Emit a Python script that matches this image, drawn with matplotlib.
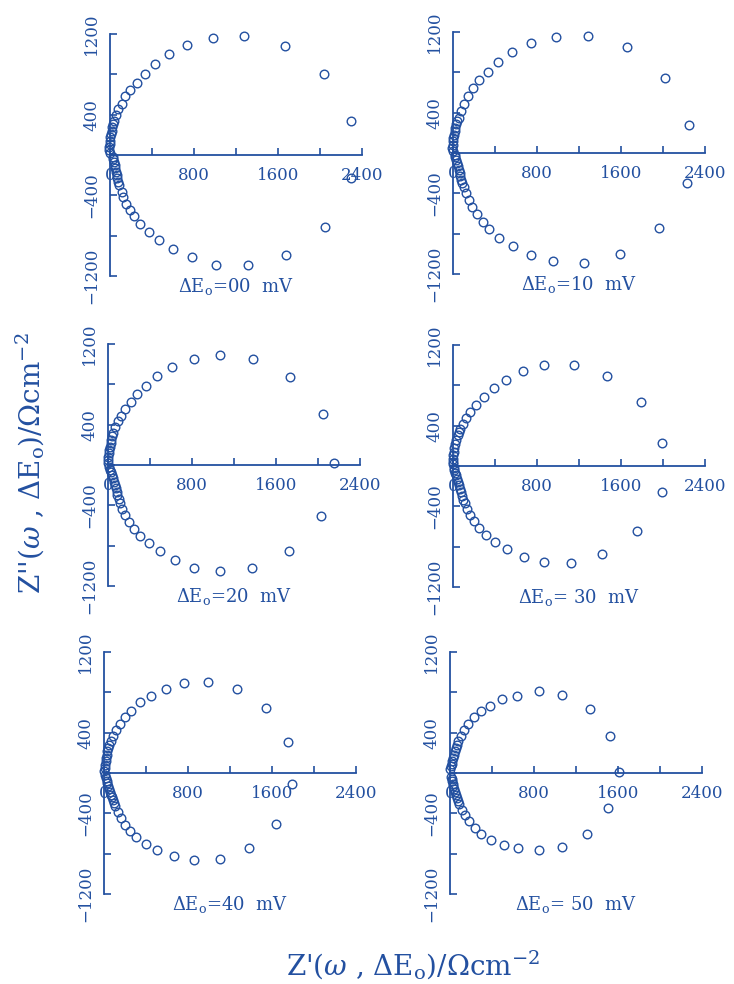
import matplotlib
matplotlib.use("Agg")
import matplotlib.pyplot as plt
from matplotlib.ticker import FixedLocator, FixedFormatter

plt.rcParams['font.family'] = ['DejaVu Serif']
plt.rcParams['mathtext.fontset'] = 'dejavuserif'

INK = '#2350A0'

# ---- impedance data: real part Z' and imaginary part Z'' (Ohm cm^-2) ----
# dE0 = 00 mV
zr_00_up = [2298, 2038, 1664, 1280, 982, 736, 560, 432, 336, 256, 192, 144, 112, 80, 58, 38, 29, 22, 16, 10, 3, 0, -3, -6, -6, -3]
zi_00_up = [340, 802, 1082, 1178, 1162, 1096, 1000, 901, 802, 716, 643, 584, 511, 452, 396, 340, 307, 274, 241, 208, 175, 142, 109, 76, 50, 23]
zr_00_lo = [2298, 2048, 1680, 1318, 1008, 778, 598, 464, 368, 288, 224, 192, 154, 128, 112, 90, 80, 70, 64, 58, 51, 45, 38, 32, 26]
zi_00_lo = [-231, -710, -990, -1096, -1089, -1016, -934, -842, -766, -683, -604, -545, -485, -419, -363, -297, -264, -231, -198, -165, -132, -99, -66, -40, -16]

# dE0 = 10 mV
zr_10_up = [2252, 2016, 1654, 1285, 977, 740, 561, 425, 331, 252, 189, 142, 104, 72, 54, 42, 31, 23, 16, 9, 3, 0, -3, -6, -3]
zi_10_up = [273, 743, 1049, 1166, 1156, 1089, 999, 899, 806, 723, 649, 566, 490, 416, 350, 316, 283, 250, 216, 183, 150, 117, 83, 50, 20]
zr_10_lo = [2230, 1962, 1591, 1244, 951, 740, 576, 441, 347, 284, 227, 183, 151, 126, 104, 90, 79, 70, 63, 55, 47, 39, 31, 23, 16]
zi_10_lo = [-293, -743, -999, -1089, -1072, -1009, -926, -842, -759, -683, -606, -533, -466, -400, -333, -300, -266, -233, -200, -167, -133, -100, -67, -40, -15]

# dE0 = 20 mV
zr_20_up = [2156, 2045, 1734, 1379, 1068, 815, 612, 466, 358, 276, 216, 165, 127, 95, 70, 48, 40, 32, 24, 16, 10, 6, 3, 0, 0]
zi_20_up = [17, 510, 876, 1056, 1096, 1049, 972, 883, 789, 706, 626, 556, 490, 433, 373, 316, 283, 250, 216, 183, 150, 117, 83, 50, 20]
zr_20_lo = [2029, 1721, 1373, 1068, 818, 634, 491, 387, 307, 247, 200, 165, 133, 111, 100, 89, 81, 73, 65, 57, 48, 38, 30, 22, 14]
zi_20_lo = [-506, -856, -1026, -1056, -1022, -942, -856, -776, -706, -633, -566, -500, -433, -373, -336, -300, -266, -233, -200, -167, -133, -100, -70, -45, -20]

# dE0 = 30 mV
zr_30_up = [1988, 1791, 1471, 1148, 869, 666, 507, 387, 292, 222, 165, 124, 92, 70, 57, 44, 33, 22, 14, 6, 1, -3, -3, 0]
zi_30_up = [228, 634, 898, 1003, 1003, 941, 858, 772, 683, 601, 535, 475, 419, 370, 337, 304, 262, 221, 180, 139, 106, 73, 40, 15]
zr_30_lo = [1988, 1750, 1417, 1122, 862, 672, 514, 403, 317, 250, 203, 165, 133, 111, 98, 86, 74, 63, 54, 44, 36, 29, 20, 13, 8]
zi_30_lo = [-257, -644, -875, -960, -957, -901, -828, -752, -680, -611, -548, -488, -429, -366, -333, -300, -262, -224, -191, -158, -125, -92, -65, -43, -18]

# dE0 = 40 mV
zr_40_up = [1751, 1547, 1269, 992, 765, 586, 444, 340, 261, 198, 151, 113, 82, 63, 52, 41, 33, 25, 20, 16, 11, 6, 3]
zi_40_up = [307, 644, 835, 901, 891, 835, 769, 700, 620, 551, 485, 429, 370, 314, 281, 248, 215, 182, 149, 116, 83, 50, 20]
zr_40_lo = [1789, 1638, 1380, 1103, 854, 662, 507, 397, 309, 246, 198, 161, 129, 104, 93, 82, 72, 63, 55, 47, 40, 32, 24, 16, 9]
zi_40_lo = [-109, -505, -743, -851, -865, -825, -769, -703, -634, -571, -512, -446, -389, -330, -300, -271, -243, -215, -187, -158, -128, -99, -75, -50, -22]

# dE0 = 50 mV
zr_50_up = [1607, 1521, 1329, 1071, 851, 639, 498, 378, 293, 227, 173, 132, 101, 79, 66, 54, 46, 38, 30, 22, 15, 9, 4]
zi_50_up = [10, 370, 634, 776, 809, 766, 736, 667, 611, 551, 485, 429, 370, 314, 281, 248, 215, 182, 149, 116, 90, 66, 35]
zr_50_lo = [1506, 1307, 1062, 844, 646, 510, 394, 299, 236, 183, 142, 110, 88, 75, 63, 55, 47, 39, 31, 26, 22, 15, 9]
zi_50_lo = [-347, -604, -733, -769, -749, -716, -667, -604, -545, -479, -419, -363, -304, -276, -248, -220, -191, -162, -132, -108, -83, -60, -40]

panel_labels = [r'$\Delta$E$_{\rm o}$=00  mV', r'$\Delta$E$_{\rm o}$=10  mV',
                r'$\Delta$E$_{\rm o}$=20  mV', r'$\Delta$E$_{\rm o}$= 30  mV',
                r'$\Delta$E$_{\rm o}$=40  mV', r'$\Delta$E$_{\rm o}$= 50  mV']

x_ticks = [0, 400, 800, 1200, 1600, 2000, 2400]
x_tick_labels = ['0', '', '800', '', '1600', '', '2400']
y_ticks = [-1200, -800, -400, 0, 400, 800, 1200]
y_tick_labels = ['\u22121200', '', '\u2212400', '', '400', '', '1200']

series = [
    (zr_00_up, zi_00_up, zr_00_lo, zi_00_lo),
    (zr_10_up, zi_10_up, zr_10_lo, zi_10_lo),
    (zr_20_up, zi_20_up, zr_20_lo, zi_20_lo),
    (zr_30_up, zi_30_up, zr_30_lo, zi_30_lo),
    (zr_40_up, zi_40_up, zr_40_lo, zi_40_lo),
    (zr_50_up, zi_50_up, zr_50_lo, zi_50_lo),
]

# ---- layout (pixels): origin of each panel and scale ----
W, H = 734, 984
origins = [(110, 155), (453, 153), (108, 465), (453, 466), (104, 773), (450, 773)]
SX = 42.0 / 400.0   # px per unit along Z'
SY = 40.3 / 400.0   # px per unit along Z''
XLIM = (-150, 2550)
YLIM = (-1350, 1300)

fig = plt.figure(figsize=(W / 100, H / 100), dpi=100)

for k, ((x0, y0), (xr_u, yi_u, xr_l, yi_l), lab) in enumerate(zip(origins, series, panel_labels)):
    left = x0 + XLIM[0] * SX
    width = (XLIM[1] - XLIM[0]) * SX
    top = y0 - YLIM[1] * SY
    height = (YLIM[1] - YLIM[0]) * SY
    ax = fig.add_axes([left / W, 1 - (top + height) / H, width / W, height / H])
    ax.set_xlim(*XLIM)
    ax.set_ylim(*YLIM)
    ax.patch.set_alpha(0)

    for s in ('top', 'right'):
        ax.spines[s].set_visible(False)
    ax.spines['left'].set_position(('data', 0))
    ax.spines['bottom'].set_position(('data', 0))
    ax.spines['left'].set_bounds(-1200, 1200)
    ax.spines['bottom'].set_bounds(0, 2400)
    for s in ('left', 'bottom'):
        ax.spines[s].set_color(INK)
        ax.spines[s].set_linewidth(1.3)

    ax.xaxis.set_major_locator(FixedLocator(x_ticks))
    ax.xaxis.set_major_formatter(FixedFormatter(x_tick_labels))
    ax.yaxis.set_major_locator(FixedLocator(y_ticks))
    ax.yaxis.set_major_formatter(FixedFormatter(y_tick_labels))
    ax.tick_params(axis='both', direction='in', length=5, width=1.2, color=INK,
                   labelcolor=INK, labelsize=12)
    ax.tick_params(axis='x', pad=9)
    ax.tick_params(axis='y', pad=7, labelrotation=90)
    for t in ax.get_yticklabels():
        t.set_verticalalignment('center')

    ax.plot(xr_u, yi_u, 'o', ms=6.2, mfc='none', mec=INK, mew=1.0, clip_on=False)
    ax.plot(xr_l, yi_l, 'o', ms=6.2, mfc='none', mec=INK, mew=1.0, clip_on=False)

    ax.text(1200, -1310, lab, ha='center', va='center', color=INK, fontsize=13,
            clip_on=False)

fig.text(30 / W, 1 - 463 / H, r"Z''($\omega$ , $\Delta$E$_{\rm o}$)/$\Omega$cm$^{-2}$",
         rotation=90, ha='center', va='center', color=INK, fontsize=20)
fig.text(413 / W, 1 - 965 / H, r"Z'($\omega$ , $\Delta$E$_{\rm o}$)/$\Omega$cm$^{-2}$",
         ha='center', va='center', color=INK, fontsize=20)

fig.savefig('out.png', dpi=100)
